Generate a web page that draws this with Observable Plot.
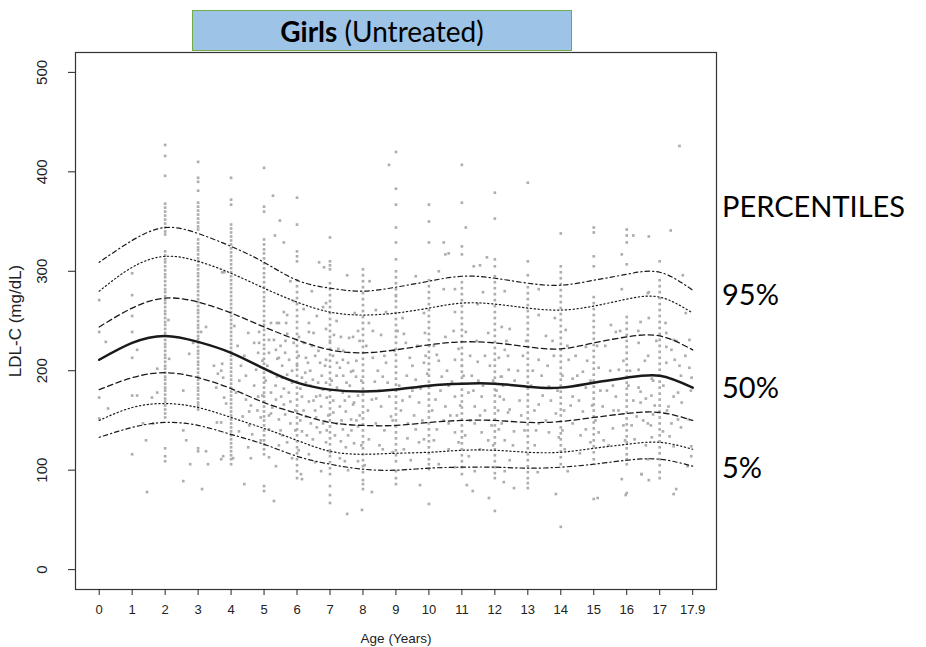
<!DOCTYPE html>
<html><head><meta charset="utf-8">
<script src="https://cdn.jsdelivr.net/npm/d3@7"></script>
<script src="https://cdn.jsdelivr.net/npm/@observablehq/plot@0.6"></script>
<style>
body{margin:0;background:#fff;}
#wrap{position:relative;width:926px;height:647px;overflow:hidden;}
#chart{position:absolute;left:0;top:0;}
#title{position:absolute;left:192px;top:10px;width:378px;height:39px;background:#9DC3E6;border:1.5px solid #70AD47;display:flex;align-items:center;justify-content:center;font-family:Lato,"Open Sans",sans-serif;font-size:28px;color:#000;white-space:pre;}
.pl{position:absolute;left:722px;font-family:Lato,"Open Sans",sans-serif;font-size:29px;line-height:29px;color:#000;white-space:nowrap;}
</style></head>
<body><div id="wrap"><div id="chart"></div>
<div id="title"></div>
<div id="labels"></div>
</div>
<script>
// ---- tick labels / categories ----
const ageTicks = [0,1,2,3,4,5,6,7,8,9,10,11,12,13,14,15,16,17,17.9];
const ldlTicks = [0,100,200,300,400,500];
const titleBold = "Girls";
const titleRest = " (Untreated)";
const xTitle = "Age (Years)";
const yTitle = "LDL-C (mg/dL)";
const sideLabels = ["PERCENTILES","95%","50%","5%"];
const sideLabelLDL = [365, 277, 183, 103];

// ---- percentile curves (values at curveAges) ----
const curveAges = [0,1,2,3,4,5,6,7,8,9,10,11,12,13,14,15,16,17,17.9];
const p95 = [309,331,344,338,325,309,291,283,280,284,290,295,293,288,286,291,297,299,281];
const p90 = [280,304,315,310,298,283,269,259,256,258,263,268,267,263,261,265,272,274,258];
const p75 = [244,263,273,269,258,244,231,221,218,221,226,229,228,224,222,228,234,235,221];
const p50 = [211,228,235,229,218,202,188,181,179,181,185,187,187,184,183,188,193,195,183];
const p25 = [181,193,198,193,182,168,157,148,145,145,148,150,150,148,149,153,157,158,150];
const p10 = [150,163,167,163,153,142,130,119,116,117,118,120,120,118,118,122,126,128,121];
const p5  = [133,143,148,145,136,126,114,106,101,100,102,103,103,102,103,106,110,111,104];

// ---- individual measurements at whole-year ages ----
const colAges = [2,3,4,5,6,7,8,9,10,11,12,13,14,15,16,17];
const colValues = [
 [427,416,396,368,364,360,356,352,348,344,340,337,320,316,312,309,305,301,297,294,290,286,282,279,275,271,268,264,260,257,253,249,246,242,238,235,231,227,224,220,216,213,209,205,202,198,194,191,187,183,180,176,172,169,165,161,157,153,122,114,109],
 [410,394,390,381,369,365,361,357,353,349,345,342,332,328,324,321,317,313,310,306,302,298,295,291,287,284,280,276,272,269,265,261,258,254,250,246,243,239,235,232,228,224,220,217,213,209,206,202,198,194,191,187,183,180,176,172,168,165,161,122,119],
 [394,372,367,347,343,339,335,331,327,323,319,315,311,307,303,299,295,291,287,283,279,275,271,267,263,259,255,251,247,243,239,235,231,227,223,219,215,211,207,203,199,195,191,187,183,179,175,171,167,163,159,155,151,147,143,139,135,131,127,123,119,115,111,106],
 [404,365,360,332,327,322,318,313,308,303,298,294,289,284,279,274,270,265,260,255,250,246,241,236,231,226,222,217,212,207,202,198,193,188,183,178,174,169,164,159,154,150,145,140,135,130,126,121,116,84,79],
 [374,347,320,315,310,291,285,279,273,267,261,255,249,243,237,231,225,219,213,207,201,195,189,183,177,171,165,159,153,147,141,135,129,123,117,111,105,99,92],
 [334,310,306,302,288,282,276,270,264,258,252,246,240,234,228,222,216,210,204,198,192,186,180,174,168,162,156,150,144,138,132,126,120,114,108,102,96,84,75,67],
 [302,296,290,284,278,272,266,260,254,248,242,236,230,224,218,212,206,200,194,188,182,176,170,164,158,152,146,140,134,128,122,116,110,104,98,90,86,81],
 [420,383,367,344,329,312,300,294,288,282,276,270,264,258,252,246,240,234,228,222,216,210,204,198,192,186,180,174,168,162,156,150,144,138,132,126,120,115,109,99,92,86],
 [367,350,329,291,285,279,273,267,261,255,249,243,237,231,225,219,213,207,201,195,189,183,177,171,165,159,153,147,141,135,129,123,117,111,106,101,66],
 [407,369,325,317,289,283,277,271,265,259,253,247,241,235,229,223,217,211,205,199,193,187,181,175,169,163,157,151,145,139,133,127,121,115,109,103,96],
 [379,353,312,305,295,289,283,277,271,265,259,253,247,241,235,229,223,217,211,205,199,193,187,181,175,169,163,157,151,145,139,133,127,121,115,109,103,97,92,59],
 [389,310,296,284,278,272,266,260,254,248,242,236,230,224,218,212,206,200,194,188,182,176,170,164,158,152,146,140,134,128,122,116,110,104,98,92,87,82],
 [338,305,299,293,287,281,275,269,263,257,251,245,239,233,227,221,215,209,203,197,191,185,179,173,167,161,155,149,143,137,131,125,119,113,106,43],
 [344,339,315,305,274,268,262,256,250,244,238,232,226,220,214,208,202,196,190,184,178,172,166,160,154,148,142,136,130,124,118,111,71],
 [342,336,329,307,254,248,242,236,230,224,218,212,206,200,194,188,182,176,170,164,158,152,146,140,134,128,122,116,111,106,77],
 [310,291,285,279,273,267,261,255,249,243,237,231,225,219,213,207,201,195,189,183,177,171,165,159,153,147,141,135,129,123,117,111,105,98,92]
];

// ---- individual measurements at other ages [age, LDL-C] ----
const scatterPoints = [
 [0,271],[0,239],[0,173],[0,152],[0.2,229],[0.27,162],[1,298],[1,276],[1,255],[1,239],[1,213],[1,175],[1,116],[1.15,221],[1.15,175],[1.42,130],[1.45,78],[1.33,147],[1.64,147],[1.76,202],[1.6,173],[1.76,178],[2.1,251],[2.12,212],[2.55,180],[2.55,140],[2.64,130],[2.55,89],[2.76,106],[2.73,217],[2.85,228],[3.09,239],[3.24,244],[3.24,119],[3.3,106],[3.12,81],[3.48,205],[3.6,197],[3.7,200],[3.76,193],[3.73,207],[3.55,183],[3.79,173],[3.85,167],[3.57,148],[3.7,148],[3.76,114],[3.7,111],[3.79,299],[3.73,299],
 [5.27,376],[5.48,351],[5.33,336],[5.6,329],[6.67,309],[6.82,304],[7.52,296],[6.79,264],[6.88,268],[5.6,259],[5.7,256],[5.21,248],[5.39,248],[5.45,248],[5.67,248],[6.36,248],[4.52,238],[4.85,239],[5.15,231],[5.3,231],[5.7,237],[6.06,234],[6.21,228],[6.36,239],[6.88,242],[7.12,236],[7.33,234],[7.58,233],[7.7,234],[4.85,228],[4.82,218],[5.15,218],[5.36,221],[5.45,213],[5.64,218],[5.76,211],[6.27,213],[6.33,208],[6.55,215],[6.7,208],[6.88,211],[7.09,215],[7.21,208],[7.3,203],[7.39,211],[7.55,208],[7.64,199],[7.79,194],[4.76,201],[4.45,195],[5.21,199],[5.39,194],[5.55,193],[5.7,196],[5.85,188],[6.15,193],[6.27,188],[6.48,191],[6.64,188],[6.79,181],[6.88,188],[7.21,183],[7.39,178],[7.58,174],[7.73,168],[4.15,178],[4.45,171],[4.82,174],[5.21,178],[5.36,171],[5.52,174],[5.6,166],[5.8,169],[6.15,174],[6.36,169],[6.58,174],[6.73,164],[7.3,164],[7.48,159],[7.7,166],[4.35,154],[4.55,159],[4.9,153],[5.21,157],[5.45,151],[5.64,156],[5.8,147],[6.27,154],[6.42,147],[6.58,153],[6.79,147],[7.21,147],[7.39,141],[7.64,151],[7.85,144],[4.24,139],[4.64,136],[5.15,141],[5.55,135],[5.7,128],[6.15,139],[6.48,131],[6.7,138],[6.88,128],[7.33,129],[7.48,123],[7.73,127],[4.06,112],[4.52,123],[4.6,112],[5.15,113],[5.36,104],[5.85,112],[6.12,96],[6.15,91],[6.36,116],[6.73,99],[7.3,112],[7.45,109],[7.85,109],[4.4,86],[5.3,69],[7.52,56],[7.97,60],
 [5.5,225],[5.9,228],[6.0,205],[6.1,182],[6.2,160],[6.4,200],[6.45,225],[6.5,170],[6.6,143],[6.75,195],[6.9,173],[6.95,155],[7.05,190],[7.1,170],[7.15,135],[7.25,222],[7.4,195],[7.45,170],[7.6,185],[7.65,140],[7.8,210],[7.85,175],[7.9,155],[5.95,160],[5.75,178],[5.55,205],[5.35,185],[5.25,163],[5.05,190],[4.95,210],[4.7,185],[4.6,165],[4.3,205],[4.2,225],[4.9,130],[5.5,140],[6.05,120],[6.55,108],[7.0,118],[7.55,100],[7.95,125],[7.95,190],[7.9,230],[7.2,250],[6.6,255],[6.2,262],[5.9,270],[6.45,280],[7.75,258],[5.8,290],
 [4.1,245],[4.25,190],[4.4,215],[4.55,145],[4.7,228],[4.8,160],[4.95,175],[5.1,205],[5.15,155],[5.4,212],[5.45,125],[5.6,182],[5.65,230],[5.85,200],[5.95,140],[6.05,215],[6.1,150],[6.25,198],[6.3,135],[6.4,185],[6.5,238],[6.55,160],[6.65,220],[6.7,175],[6.85,205],[6.9,140],[7.0,230],[7.1,158],[7.2,195],[7.35,150],[7.4,220],[7.5,188],[7.55,135],[7.7,200],[7.8,150],[7.85,240],
 [8.79,407],[11.12,344],[10.45,329],[10.5,317],[10.6,318],[11.76,314],[11.36,305],[11.55,306],[10.45,282],[10.79,282],[11.64,279],[8.39,261],[8.7,259],[9.2,253],[9.85,258],[10.79,259],[11.48,267],[8.18,248],[8.55,236],[9.24,237],[9.88,238],[10.5,234],[11.12,239],[11.8,238],[8.3,213],[8.7,208],[9.42,213],[9.85,208],[10.24,216],[10.79,211],[11.48,209],[12.12,213],[8.36,189],[8.6,194],[9.33,195],[9.6,191],[10.39,194],[10.7,189],[11.3,195],[11.64,185],[12.18,194],[8.27,171],[8.8,174],[8.55,164],[9.42,174],[9.7,168],[10.2,171],[10.5,164],[10.79,174],[11.39,164],[11.6,174],[12.27,171],[8.39,147],[8.85,154],[9.36,147],[9.6,141],[9.85,131],[10.24,141],[10.6,147],[10.79,138],[11.39,147],[11.6,138],[12.12,141],[8.18,131],[8.6,121],[8.9,118],[9.24,121],[9.7,128],[10.6,121],[11.21,114],[11.55,121],[8.27,78],[9.73,85],[10.3,106],[10.79,103],[11.39,99],[11.15,85],[11.33,79],[11.82,72],[12.27,88],
 [8.1,225],[8.45,200],[8.5,180],[8.65,140],[8.95,220],[9.1,185],[9.15,160],[9.3,228],[9.5,205],[9.55,155],[9.75,182],[9.95,197],[10.1,160],[10.15,225],[10.35,180],[10.55,200],[10.65,155],[10.9,222],[10.95,165],[11.05,195],[11.2,178],[11.25,150],[11.45,230],[11.5,190],[11.7,160],[11.85,205],[11.9,145],[12.05,180],[12.35,230],[12.4,158],[8.2,290],[9.0,275],[9.6,295],[10.3,300],[12.3,280],[9.45,110],[10.9,128],[11.95,125],[8.05,105],[12.45,110],
 [8.15,160],[8.3,240],[8.4,172],[8.5,125],[8.65,215],[8.75,188],[8.9,150],[9.05,240],[9.2,170],[9.35,132],[9.5,180],[9.65,225],[9.8,150],[9.9,215],[10.05,185],[10.15,130],[10.3,210],[10.45,150],[10.6,185],[10.75,240],[10.85,155],[11.0,205],[11.1,135],[11.25,215],[11.35,180],[11.55,155],[11.7,215],[11.8,130],[11.95,190],[12.1,160],
 [13.33,282],[15.85,282],[16.67,279],[13.33,256],[13.82,253],[12.21,244],[12.45,242],[14.15,241],[15.52,246],[16.42,249],[13.55,235],[14.76,224],[15.67,239],[16.36,228],[12.3,221],[13.33,211],[13.79,215],[14.24,211],[14.67,199],[15.15,203],[15.76,201],[16.36,201],[12.21,194],[12.42,201],[13.42,195],[13.64,184],[14.36,192],[14.76,183],[15.58,185],[16.36,183],[12.15,174],[12.45,161],[13.33,166],[13.85,157],[14.36,174],[14.67,159],[15.27,164],[15.67,174],[16.3,154],[16.58,172],[12.21,147],[12.58,139],[13.33,147],[13.64,138],[13.94,133],[14.36,147],[14.76,141],[15.15,138],[15.58,142],[16.24,131],[12.3,130],[13.21,125],[14.12,121],[14.58,117],[15.45,125],[16.58,125],[12.3,99],[13.3,98],[14.21,99],[15.85,91],[16.45,96],[12.58,82],[13.85,76],[15.12,72],[15.97,75],[15.85,317],[16.67,335],[16.2,336],
 [12.6,190],[12.75,170],[12.85,215],[13.1,185],[13.2,160],[13.6,205],[13.7,170],[14.05,195],[14.1,160],[14.45,215],[14.55,170],[14.9,190],[15.05,150],[15.35,225],[15.4,180],[15.75,160],[15.9,210],[16.05,185],[16.15,145],[16.55,210],[16.8,190],[12.9,140],[14.9,128],[15.95,130],[16.85,165],
 [12.25,185],[12.4,215],[12.55,125],[12.7,200],[12.8,155],[12.95,230],[13.15,200],[13.25,140],[13.45,175],[13.55,150],[13.75,230],[13.9,180],[14.05,140],[14.2,225],[14.3,165],[14.5,195],[14.6,135],[14.8,210],[14.95,165],[15.1,225],[15.2,180],[15.3,130],[15.5,200],[15.6,160],[15.8,240],[15.9,145],[16.1,200],[16.2,170],[16.35,240],[16.5,150],[16.65,215],[16.75,175],[16.9,230],[17.1,185],[17.2,160],[17.45,230],[17.6,168],[17.7,215],[17.85,180],
 [17.54,426],[17.3,341],[17.63,296],[16.64,278],[17.71,258],[16.67,253],[17.16,248],[17.18,238],[17.38,231],[17.81,231],[17.18,224],[17.32,221],[17.41,211],[17.54,205],[17.81,203],[17.87,193],[17.18,208],[16.76,192],[17.58,195],[16.42,179],[16.42,168],[17.38,174],[17.5,178],[17.24,164],[16.8,156],[16.64,147],[16.73,145],[17.5,151],[17.58,143],[17.79,151],[17.32,147],[17.09,139],[17.27,134],[16.76,133],[17.38,124],[17.86,124],[17.86,114],[16.64,111],[17.76,104],[16.67,90],[16.45,96],[17.45,81],[17.38,76]
];

// ---- build tables ----
const points = [
  ...colAges.flatMap((a, i) => colValues[i].map(v => ({age: a, ldl: v}))),
  ...scatterPoints.map(([a, v]) => ({age: a, ldl: v}))
];
const curves = [
  {values: p95, w: 1.2, dash: "1.3,3,4.5,3"},
  {values: p90, w: 1.2, dash: "1.3,2.6"},
  {values: p75, w: 1.3, dash: "5.5,3.5"},
  {values: p50, w: 2.5, dash: null},
  {values: p25, w: 1.3, dash: "5.5,3.5"},
  {values: p10, w: 1.2, dash: "1.3,2.6"},
  {values: p5,  w: 1.2, dash: "1.3,3,4.5,3"}
];

const chart = Plot.plot({
  width: 926, height: 647,
  marginLeft: 75, marginRight: 210, marginTop: 52, marginBottom: 58,
  style: {fontFamily: "'Liberation Sans', Arial, sans-serif", background: "transparent", color: "#222", overflow: "visible"},
  x: {type: "linear", domain: [0, 17, 17.9], range: [98.7, 659.2, 692.2]},
  y: {type: "linear", domain: [-20, 520]},
  marks: [
    Plot.dot(points, {x: "age", y: "ldl", r: 1.5, symbol: "square", fill: "#adadad"}),
    ...curves.map(c => Plot.line(curveAges, {
      x: d => d, y: (d, i) => c.values[i],
      stroke: "#1a1a1a", strokeWidth: c.w, strokeDasharray: c.dash, curve: "natural"
    })),
    Plot.frame({stroke: "#333", strokeWidth: 1.2}),
    Plot.axisX({ticks: ageTicks, tickSize: 6, tickPadding: 9, fontSize: 13, tickFormat: d => String(d), label: null}),
    Plot.axisX({ticks: [], label: xTitle, fontSize: 13.5, labelAnchor: "center", labelOffset: 53, labelArrow: "none"}),
    Plot.axisY({ticks: ldlTicks, tickSize: 7, tickPadding: 22, tickRotate: -90, fontSize: 15, label: null}),
    Plot.axisY({ticks: [], label: yTitle, fontSize: 17, labelAnchor: "center", labelOffset: 67, labelArrow: "none"})
  ]
});
document.getElementById("chart").append(chart);

// title box
const t = document.getElementById("title");
const b = document.createElement("b"); b.textContent = titleBold;
t.append(b, document.createTextNode(titleRest));

// side labels placed via the chart's own y scale
const ys = chart.scale("y");
const lab = document.getElementById("labels");
sideLabels.forEach((s, i) => {
  const d = document.createElement("div");
  d.className = "pl";
  d.textContent = s;
  d.style.top = (ys.apply(sideLabelLDL[i]) - 15) + "px";
  lab.append(d);
});
</script>
</body></html>
